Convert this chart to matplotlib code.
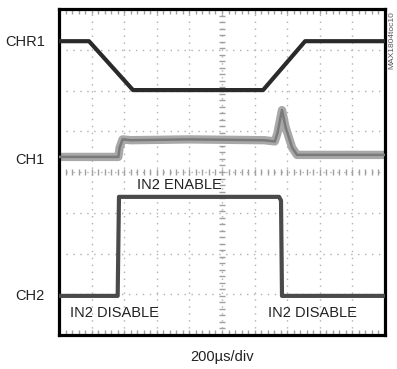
import matplotlib
matplotlib.use("Agg")
import matplotlib.pyplot as plt
import numpy as np

plt.rcParams['font.family'] = ['Liberation Sans Narrow', 'Liberation Sans', 'DejaVu Sans']

# scope traces, x in divisions (0..10), y in divisions (0..8)
chr1_x = [0.0, 0.92, 2.27, 6.26, 7.55, 10.0]
chr1_y = [7.21, 7.21, 6.01, 6.01, 7.21, 7.21]

ch1_x = [0.0, 1.82, 1.86, 1.95, 2.2, 4.0, 6.3, 6.62, 6.7, 6.84, 6.95, 7.15, 7.3, 10.0]
ch1_y = [4.37, 4.37, 4.6, 4.8, 4.78, 4.8, 4.78, 4.75, 4.95, 5.52, 5.1, 4.6, 4.42, 4.42]

ch2_x = [0.0, 1.8, 1.84, 6.75, 6.81, 6.84, 10.0]
ch2_y = [0.96, 0.96, 3.39, 3.39, 3.3, 0.96, 0.96]

channel_labels = ['CHR1', 'CH1', 'CH2']
channel_levels = [7.19, 4.29, 0.96]

fig = plt.figure(figsize=(3.97, 3.69), dpi=100)
ax = fig.add_axes([59/397, 34/369, 326/397, 326/369])
ax.set_xlim(0, 10)
ax.set_ylim(0, 8)

# graticule
for gx in range(1, 10):
    ax.axvline(gx, color='#b0b0b0', lw=1.0, ls=(0, (1, 4)), zorder=1)
for gy in range(1, 8):
    ax.axhline(gy, color='#b0b0b0', lw=1.0, ls=(0, (1, 4)), zorder=1)
minor = np.arange(0.2, 10, 0.2)
ax.plot([5] * len(minor), minor * 0.8, ls='none', marker='_', ms=5, color='#a0a0a0', zorder=1)
ax.plot(minor, [4] * len(minor), ls='none', marker='|', ms=5, color='#a0a0a0', zorder=1)
ax.plot(minor, [0.05] * len(minor), ls='none', marker='|', ms=4, color='#a0a0a0', zorder=1)
ax.plot(minor, [7.95] * len(minor), ls='none', marker='|', ms=4, color='#a0a0a0', zorder=1)

ax.plot(chr1_x, chr1_y, color='#2a2a2a', lw=3.0, zorder=3, solid_joinstyle='round')
ax.plot(ch1_x, ch1_y, color='#a8a8a8', lw=6, zorder=2, solid_joinstyle='round')
ax.plot(ch1_x, ch1_y, color='#7a7a7a', lw=1.8, zorder=3, solid_joinstyle='round')
ax.plot(ch2_x, ch2_y, color='#4a4a4a', lw=3.0, zorder=3, solid_joinstyle='round')

for lab, lev in zip(channel_labels, channel_levels):
    ax.text(-0.43, lev, lab, ha='right', va='center', fontsize=10.5, color='#222222', clip_on=False)

ax.text(2.39, 3.68, 'IN2 ENABLE', ha='left', va='center', fontsize=10.5, color='#222222')
ax.text(0.34, 0.54, 'IN2 DISABLE', ha='left', va='center', fontsize=10.5, color='#222222')
ax.text(6.41, 0.54, 'IN2 DISABLE', ha='left', va='center', fontsize=10.5, color='#222222')

fig.text(222/397, 1 - 357/369, '200\u00b5s/div', ha='center', va='center', fontsize=10.5, color='#222222')
fig.text(392/397, 1 - 40/369, 'MAX1804toc10', ha='center', va='center', rotation=90, fontsize=6, color='#555555')

ax.set_xticks([])
ax.set_yticks([])
for sp in ax.spines.values():
    sp.set_linewidth(2.3)
    sp.set_color('black')

fig.savefig('out.png', dpi=100)
